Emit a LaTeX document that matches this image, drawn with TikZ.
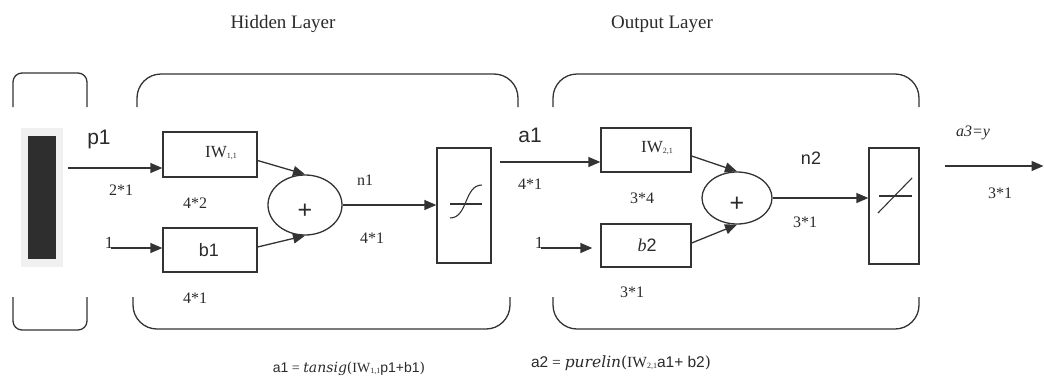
\documentclass[tikz,border=0pt]{standalone}
\usepackage{fontspec}
\setmainfont{Liberation Serif}
\setsansfont{Liberation Sans}
\newfontfamily\fnit{DejaVu Serif}
\usetikzlibrary{arrows.meta,shapes.geometric}
\definecolor{ink}{HTML}{333333}
\definecolor{txt}{HTML}{2a2a2a}
\newcommand{\sbs}[1]{\raisebox{-1pt}{\fontsize{8}{8}\selectfont #1}}
\tikzset{
  line/.style={draw=ink, line width=1.3pt},
  arr/.style={line, -{Triangle[length=12pt,width=10pt]}},
  blk/.style={rectangle, draw=ink, line width=1.3pt, inner sep=0pt},
  sumnode/.style={ellipse, draw=ink, line width=1.3pt, inner sep=0pt},
  lbl/.style={text=txt, inner sep=0pt, font=\fontsize{16}{16}\selectfont},
  serlbl/.style={text=txt, inner sep=0pt, font=\fontsize{17}{17}\selectfont},
  sanslbl/.style={text=txt, inner sep=0pt, font=\sffamily\fontsize{21}{21}\selectfont},
  boxlbl/.style={text=txt, inner sep=0pt, font=\sffamily\fontsize{18}{18}\selectfont},
  titlelbl/.style={text=txt, inner sep=0pt, font=\fontsize{19}{19}\selectfont},
  formula/.style={text=txt, inner sep=0pt},
  bracket/.style={draw=ink, line width=1.3pt, rounded corners=24pt},
  smallbracket/.style={draw=ink, line width=1.3pt, rounded corners=9pt},
}
\begin{document}
\begin{tikzpicture}[x=1pt,y=-1pt]
\useasboundingbox (0,0) rectangle (1044,383);

% titles
\node[titlelbl] (tHidden) at (283,24) {Hidden Layer};
\node[titlelbl] (tOutput) at (662,24) {Output Layer};

% brackets
\draw[smallbracket] (13,107) -- (13,73) -- (87,73) -- (87,107);
\draw[smallbracket] (13,297) -- (13,330) -- (87,330) -- (87,297);
\draw[bracket] (137,107) -- (137,74) -- (518,74) -- (518,107);
\draw[bracket] (133,297) -- (133,329) -- (510,329) -- (510,297);
\draw[bracket] (553,107) -- (553,74) -- (919,74) -- (919,107);
\draw[bracket] (553,297) -- (553,329) -- (919,329) -- (919,297);

% input
\node[rectangle, fill=black!6, minimum width=42pt, minimum height=139pt, inner sep=0pt] (inbg) at (42,197.5) {};
\node[rectangle, fill=black!82, minimum width=28pt, minimum height=123pt, inner sep=0pt] (inblk) at (42,197.5) {};
\node[sanslbl] (p1) at (99,139) {p1};
\coordinate (p1start) at (68,168);
\node[lbl] (d21) at (121,190) {2*1};

% hidden layer
\node[blk, minimum width=94pt, minimum height=45pt] (IW11) at (210,154.5) {};
\node[serlbl] (IW11t) at (221,153) {IW\sbs{1,1}};
\node[blk, minimum width=94pt, minimum height=44pt] (b1) at (210,250) {};
\node[boxlbl] (b1t) at (209,250) {b1};
\node[lbl, anchor=base, font=\fontsize{17}{17}\selectfont] (one1) at (109,248) {1};
\coordinate (one1s) at (111,248);
\node[lbl] (d42) at (195,203) {4*2};
\node[lbl] (d41a) at (195,298) {4*1};
\node[sumnode, minimum width=74pt, minimum height=60pt] (sum1) at (305,205) {};
\node[text=txt, inner sep=0pt, font=\sffamily\fontsize{25}{25}\selectfont] (plus1) at (305,211) {+};
\node[lbl] (n1) at (365,180) {n1};
\node[lbl] (d41b) at (372,238) {4*1};
\node[blk, minimum width=54pt, minimum height=115pt] (tsig) at (464,205.5) {};
\draw[line, line width=1.1pt] (450,204) -- (482,204);
\draw[line, line width=1.1pt] (450,218) .. controls (468,218) and (464,185) .. (482,185);

\draw[arr] (p1start) -- (p1start -| IW11.west);
\draw[arr] (one1s) -- (one1s -| b1.west);
\draw[arr] ([yshift=-6pt]IW11.east) -- (sum1.north);
\draw[arr] ([yshift=3pt]b1.east) -- (sum1.south);
\draw[arr] (sum1.east) -- (sum1.east -| tsig.west);

% between layers
\node[sanslbl] (a1) at (530,135) {a1};
\coordinate (a1start) at (500,162);
\node[lbl] (d41c) at (530,184) {4*1};

% output layer
\node[blk, minimum width=90pt, minimum height=44pt] (IW21) at (646,150) {};
\node[serlbl] (IW21t) at (657,148) {IW\sbs{2,1}};
\node[blk, minimum width=90pt, minimum height=43pt] (b2) at (646,245.5) {};
\node[boxlbl] (b2t) at (647,245) {\textit{\rmfamily b}2};
\node[lbl, anchor=base, font=\fontsize{17}{17}\selectfont] (one2) at (539,248) {1};
\coordinate (one2s) at (541,248);
\node[lbl] (d34) at (642,198) {3*4};
\node[lbl] (d31a) at (632,292) {3*1};
\node[sumnode, minimum width=70pt, minimum height=52pt] (sum2) at (737,198) {};
\node[text=txt, inner sep=0pt, font=\sffamily\fontsize{25}{25}\selectfont] (plus2) at (737,204) {+};
\node[boxlbl] (n2) at (811,158) {n2};
\node[lbl] (d31b) at (805,222) {3*1};
\node[blk, minimum width=50pt, minimum height=116pt] (plin) at (894,206) {};
\draw[line, line width=1.1pt] (879,196) -- (912,196);
\draw[line, line width=1.1pt] (878,213) -- (912,178);

\draw[arr] (a1start) -- (a1start -| IW21.west);
\draw[arr, shorten >=8pt] (one2s) -- (one2s -| b2.west);
\draw[arr] ([yshift=-6pt]IW21.east) -- (sum2.north);
\draw[arr] ([yshift=2.5pt]b2.east) -- (sum2.south);
\draw[arr] (sum2.east) -- (sum2.east -| plin.west);

% output
\node[lbl, font=\itshape\fontsize{16}{16}\selectfont] (a3) at (973,133) {a3=y};
\coordinate (outs) at (945,166);
\coordinate (oute) at (1043.5,166);
\draw[arr] (outs) -- (oute);
\node[lbl] (d31c) at (1000,193) {3*1};

% formulas
\node[formula, font=\fontsize{14}{14}\selectfont] (f1) at (349,369) {{\sffamily a1} = {\fnit\itshape tansig}{\fnit(}IW\sbs{1,1}{\sffamily p1+b1}{\fnit)}};
\node[formula, font=\fontsize{15.5}{15.5}\selectfont] (f2) at (621,363) {{\sffamily a2} = {\fnit\itshape purelin}{\fnit(}IW\sbs{2,1}{\sffamily a1+ b2}{\fnit)}};
\end{tikzpicture}
\end{document}
